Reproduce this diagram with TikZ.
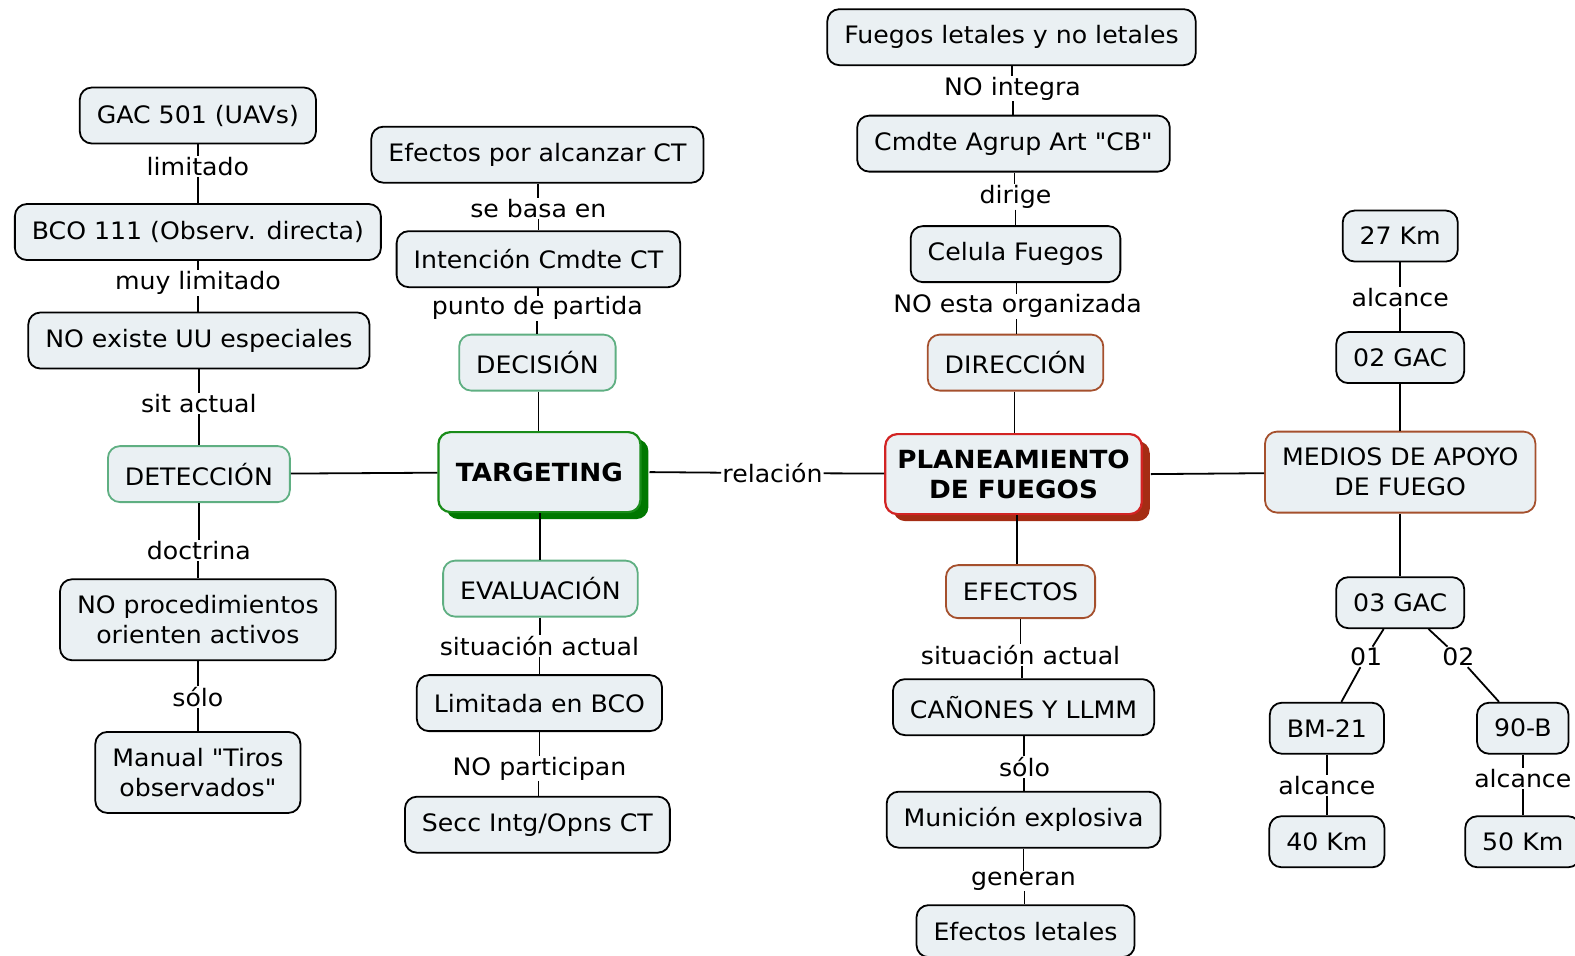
\documentclass[tikz,border=0pt]{standalone}
\usepackage{fontspec}
\setmainfont{DejaVu Sans}[Ligatures=TeXOff, FakeStretch=1.05]
\usetikzlibrary{shadows,calc}
\definecolor{boxfill}{RGB}{234,240,243}
\definecolor{lgreen}{RGB}{95,175,130}
\definecolor{tgreen}{RGB}{25,140,25}
\definecolor{tshadow}{RGB}{0,120,0}
\definecolor{pred}{RGB}{210,35,35}
\definecolor{pshadow}{RGB}{165,45,20}
\definecolor{brownb}{RGB}{165,80,45}
\tikzset{
  box/.style={draw=black, line width=1.8pt, fill=boxfill, rounded corners=12pt,
    minimum height=56pt, inner xsep=17pt, align=center,
    font=\fontsize{24}{30}\selectfont},
  gbox/.style={box, draw=lgreen},
  bbox/.style={box, draw=brownb},
  lbl/.style={inner sep=1pt, font=\fontsize{24}{28}\selectfont},
  conn/.style={line width=1.8pt, black},
}
\begin{document}
\begin{tikzpicture}[x=1.0045pt,y=-1.0045pt]
\useasboundingbox (0,0) rectangle (1568,951);
% left column
\node[box] (gac) at (197,115) {GAC 501 (UAVs)};
\node[lbl] (l1) at (197,166) {limitado};
\node[box] (bco) at (197,231) {BCO 111 (Observ. directa)};
\node[lbl] (l2) at (197,282) {muy limitado};
\node[box] (noex) at (198,339) {NO existe UU especiales};
\node[lbl] (l3) at (198,402) {sit actual};
\node[gbox] (det) at (198,472) {DETECCIÓN};
\node[lbl] (l4) at (198,548) {doctrina};
\node[box, minimum height=81pt] (noproc) at (197,617) {NO procedimientos\\orienten activos};
\node[lbl] (l5) at (197,694) {sólo};
\node[box, minimum height=81pt] (manual) at (197,769) {Manual "Tiros\\observados"};
% second column
\node[box] (efct) at (535,154) {Efectos por alcanzar CT};
\node[lbl] (l6) at (536,208) {se basa en};
\node[box] (inten) at (536,258) {Intención Cmdte CT};
\node[lbl] (l7) at (535,307) {punto de partida};
\node[gbox] (dec) at (535,361) {DECISIÓN};
\node[box, draw=tgreen, line width=2.2pt, minimum height=80pt, minimum width=202pt,
  font=\fontsize{25}{30}\selectfont\bfseries,
  drop shadow={shadow xshift=8pt, shadow yshift=-7pt, fill=tshadow, opacity=1}] (tgt) at (537,470) {TARGETING};
\node[gbox] (eval) at (538,586) {EVALUACIÓN};
\node[lbl] (l8) at (537,643) {situación actual};
\node[box] (limit) at (537,700) {Limitada en BCO};
\node[lbl] (l9) at (537,765) {NO participan};
\node[box] (secc) at (535,821) {Secc Intg/Opns CT};
% relation
\node[lbl] (rel) at (769,471) {relación};
% third column
\node[box] (fueg) at (1007,37) {Fuegos letales y no letales};
\node[lbl] (l10) at (1008,88) {NO integra};
\node[box] (cmdte) at (1009,143) {Cmdte Agrup Art "CB"};
\node[lbl] (l11) at (1011,196) {dirige};
\node[box] (cel) at (1011,253) {Celula Fuegos};
\node[lbl] (l12) at (1013,305) {NO esta organizada};
\node[bbox] (dir) at (1011,361) {DIRECCIÓN};
\node[box, draw=pred, line width=2.2pt, minimum height=80pt, minimum width=254pt, inner xsep=12pt,
  font=\fontsize{25}{30}\selectfont\bfseries,
  drop shadow={shadow xshift=8pt, shadow yshift=-7pt, fill=pshadow, opacity=1}] (plan) at (1009,472) {PLANEAMIENTO\\DE FUEGOS};
\node[bbox, minimum height=53pt] (efs) at (1016,589) {EFECTOS};
\node[lbl] (l13) at (1016,652) {situación actual};
\node[box] (can) at (1019,704) {CAÑONES Y LLMM};
\node[lbl] (l14) at (1020,764) {sólo};
\node[box] (mun) at (1019,816) {Munición explosiva};
\node[lbl] (l15) at (1019,877) {generan};
\node[box, minimum height=52pt] (efl) at (1021,927) {Efectos letales};
% fourth column
\node[box, minimum height=51pt] (km27) at (1394,235) {27 Km};
\node[lbl] (l16) at (1394,296) {alcance};
\node[box, minimum height=51pt] (gac02) at (1394,356) {02 GAC};
\node[bbox, minimum height=81pt] (med) at (1394,470) {MEDIOS DE APOYO\\DE FUEGO};
\node[box, minimum height=51pt] (gac03) at (1394,600) {03 GAC};
\node[lbl] (l17) at (1360,654) {01};
\node[lbl] (l18) at (1452,654) {02};
\node[box, minimum height=51pt] (bm) at (1321,725) {BM-21};
\node[box, minimum height=51pt] (b90) at (1516,725) {90-B};
\node[lbl] (l19) at (1321,782) {alcance};
\node[lbl] (l20) at (1516,775) {alcance};
\node[box, minimum height=51pt] (km40) at (1321,838) {40 Km};
\node[box, minimum height=51pt] (km50) at (1516,838) {50 Km};
% connectors (vertical chains)
\foreach \a/\b in {gac/l1, l1/bco, bco/l2, l2/noex, noex/l3, l3/det, det/l4, l4/noproc, noproc/l5, l5/manual,
  efct/l6, l6/inten, inten/l7, l7/dec, dec/tgt, tgt/eval, eval/l8, l8/limit, limit/l9, l9/secc,
  fueg/l10, l10/cmdte, cmdte/l11, l11/cel, cel/l12, l12/dir, dir/plan, plan/efs, efs/l13, l13/can, can/l14, l14/mun, mun/l15, l15/efl,
  km27/l16, l16/gac02, gac02/med, med/gac03, bm/l19, l19/km40, b90/l20, l20/km50}{
  \coordinate (m) at ($(\a.south)!0.5!(\b.north)$);
  \draw[conn] (m |- \a.south) -- (m |- \b.north);
}
\draw[conn] (det) -- (tgt);
\draw[conn] (tgt.east) ++(8pt,0) -- (rel) -- (plan);
\draw[conn] (plan.east) ++(8pt,0) -- (med);
\draw[conn] (gac03) -- (l17) -- (bm);
\draw[conn] (gac03) -- (l18) -- (b90);
\end{tikzpicture}
\end{document}
